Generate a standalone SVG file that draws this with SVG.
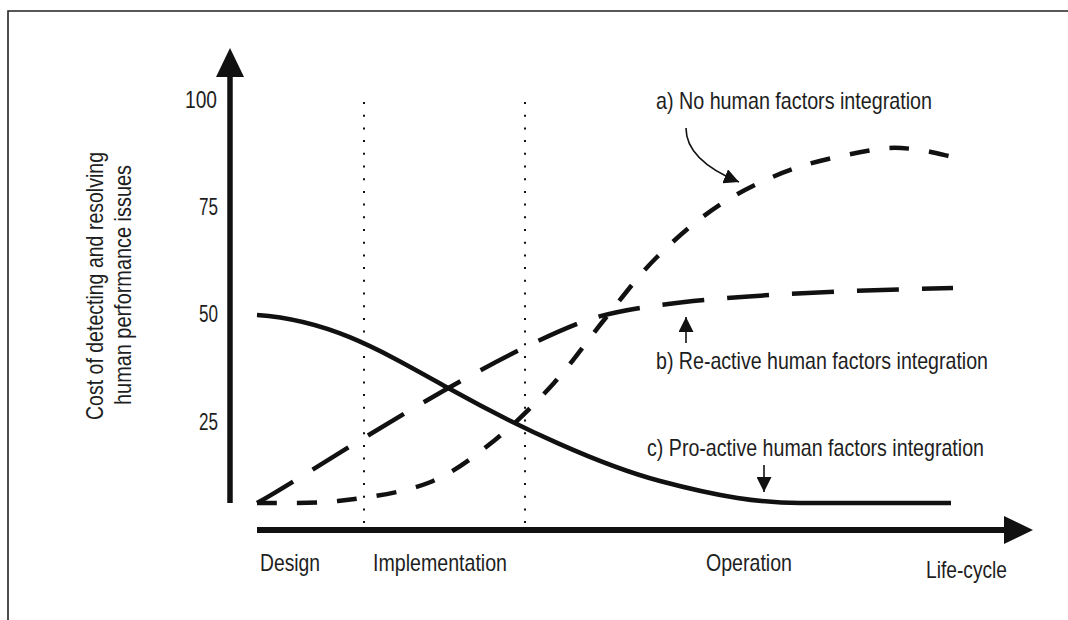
<svg xmlns="http://www.w3.org/2000/svg" width="1068" height="620" viewBox="0 0 1068 620">
<style>
text{font-family:"Liberation Sans",Arial,sans-serif;font-size:24px;fill:#1e1e1e}
.ax{stroke:#111;fill:none}
.dot{stroke:#111;stroke-width:2;stroke-dasharray:2 10.7;fill:none}
.crv{stroke:#111;stroke-width:4.5;fill:none}
.ann{stroke:#111;stroke-width:1.6;fill:none;marker-end:url(#ah)}
</style>
<defs>
<marker id="ah" viewBox="0 0 16 16" refX="16" refY="8" markerWidth="15" markerHeight="15" markerUnits="userSpaceOnUse" orient="auto">
<path d="M0,0 L16,8 L0,16 z" fill="#111"/>
</marker>
</defs>
<rect x="0" y="0" width="1068" height="620" fill="#fff"/>
<path d="M8,620 L8,11 L1068,11" stroke="#222" stroke-width="1.6" fill="none"/>
<g id="axes">
<line class="ax" x1="230" y1="503" x2="230" y2="76" stroke-width="5.5"/>
<polygon points="216,77 230,48 244,77" fill="#111"/>
<line class="ax" x1="257" y1="530" x2="1006" y2="530" stroke-width="6"/>
<polygon points="1004,516 1033,530 1004,544" fill="#111"/>
</g>
<g id="phase-dividers">
<line class="dot" x1="364" y1="102" x2="364" y2="526"/>
<line class="dot" x1="525" y1="102" x2="525" y2="526"/>
</g>
<g id="y-ticks">
<text x="185" y="108" textLength="32" lengthAdjust="spacingAndGlyphs">100</text>
<text x="199" y="215" textLength="19" lengthAdjust="spacingAndGlyphs">75</text>
<text x="199" y="322" textLength="19" lengthAdjust="spacingAndGlyphs">50</text>
<text x="199" y="430" textLength="19" lengthAdjust="spacingAndGlyphs">25</text>
</g>
<g id="y-label">
<text transform="translate(103,420) rotate(-90)" textLength="268" lengthAdjust="spacingAndGlyphs">Cost of detecting and resolving</text>
<text transform="translate(131,405) rotate(-90)" textLength="240" lengthAdjust="spacingAndGlyphs">human performance issues</text>
</g>
<g id="x-labels">
<text x="260" y="571" textLength="60" lengthAdjust="spacingAndGlyphs">Design</text>
<text x="373" y="571" textLength="134" lengthAdjust="spacingAndGlyphs">Implementation</text>
<text x="706" y="571" textLength="86" lengthAdjust="spacingAndGlyphs">Operation</text>
<text x="926" y="578" textLength="81" lengthAdjust="spacingAndGlyphs">Life-cycle</text>
</g>
<g id="curve-c">
<path class="crv" stroke-width="4" d="M257,315 C330,320 380,350 450,389 C520,428 600,465 660,481 C720,497 760,503 800,503 L951,503"/>
</g>
<g id="curve-b">
<path class="crv" stroke-dasharray="42 23" d="M257,503 C300,480 470,365 582,322 C640,300 780,292 953,288"/>
</g>
<g id="curve-a">
<path class="crv" stroke-dasharray="20 20" d="M257,503 C270.5,502.7 309.5,504.3 338,501 C366.5,497.7 401.8,493.2 428,483 C454.2,472.8 474,456.7 495,440 C516,423.3 535.8,403 554,383 C572.2,363 586.8,341 604,320 C621.2,299 637.5,276.3 657,257 C676.5,237.7 698.3,218.7 721,204 C743.7,189.3 767.7,178 793,169 C818.3,160 853,153.3 873,150 C893,146.7 899.7,147.8 913,149 C926.3,150.2 946.3,155.7 953,157"/>
</g>
<g id="label-a">
<text x="656" y="109" textLength="276" lengthAdjust="spacingAndGlyphs">a) No human factors integration</text>
<path class="ann" d="M686,128 C686,150 705,168 739,182"/>
</g>
<g id="label-b">
<text x="656" y="369" textLength="332" lengthAdjust="spacingAndGlyphs">b) Re-active human factors integration</text>
<path class="ann" d="M686,343 L686,317"/>
</g>
<g id="label-c">
<text x="647" y="456" textLength="337" lengthAdjust="spacingAndGlyphs">c) Pro-active human factors integration</text>
<path class="ann" d="M764,465 L764,492"/>
</g>
</svg>
